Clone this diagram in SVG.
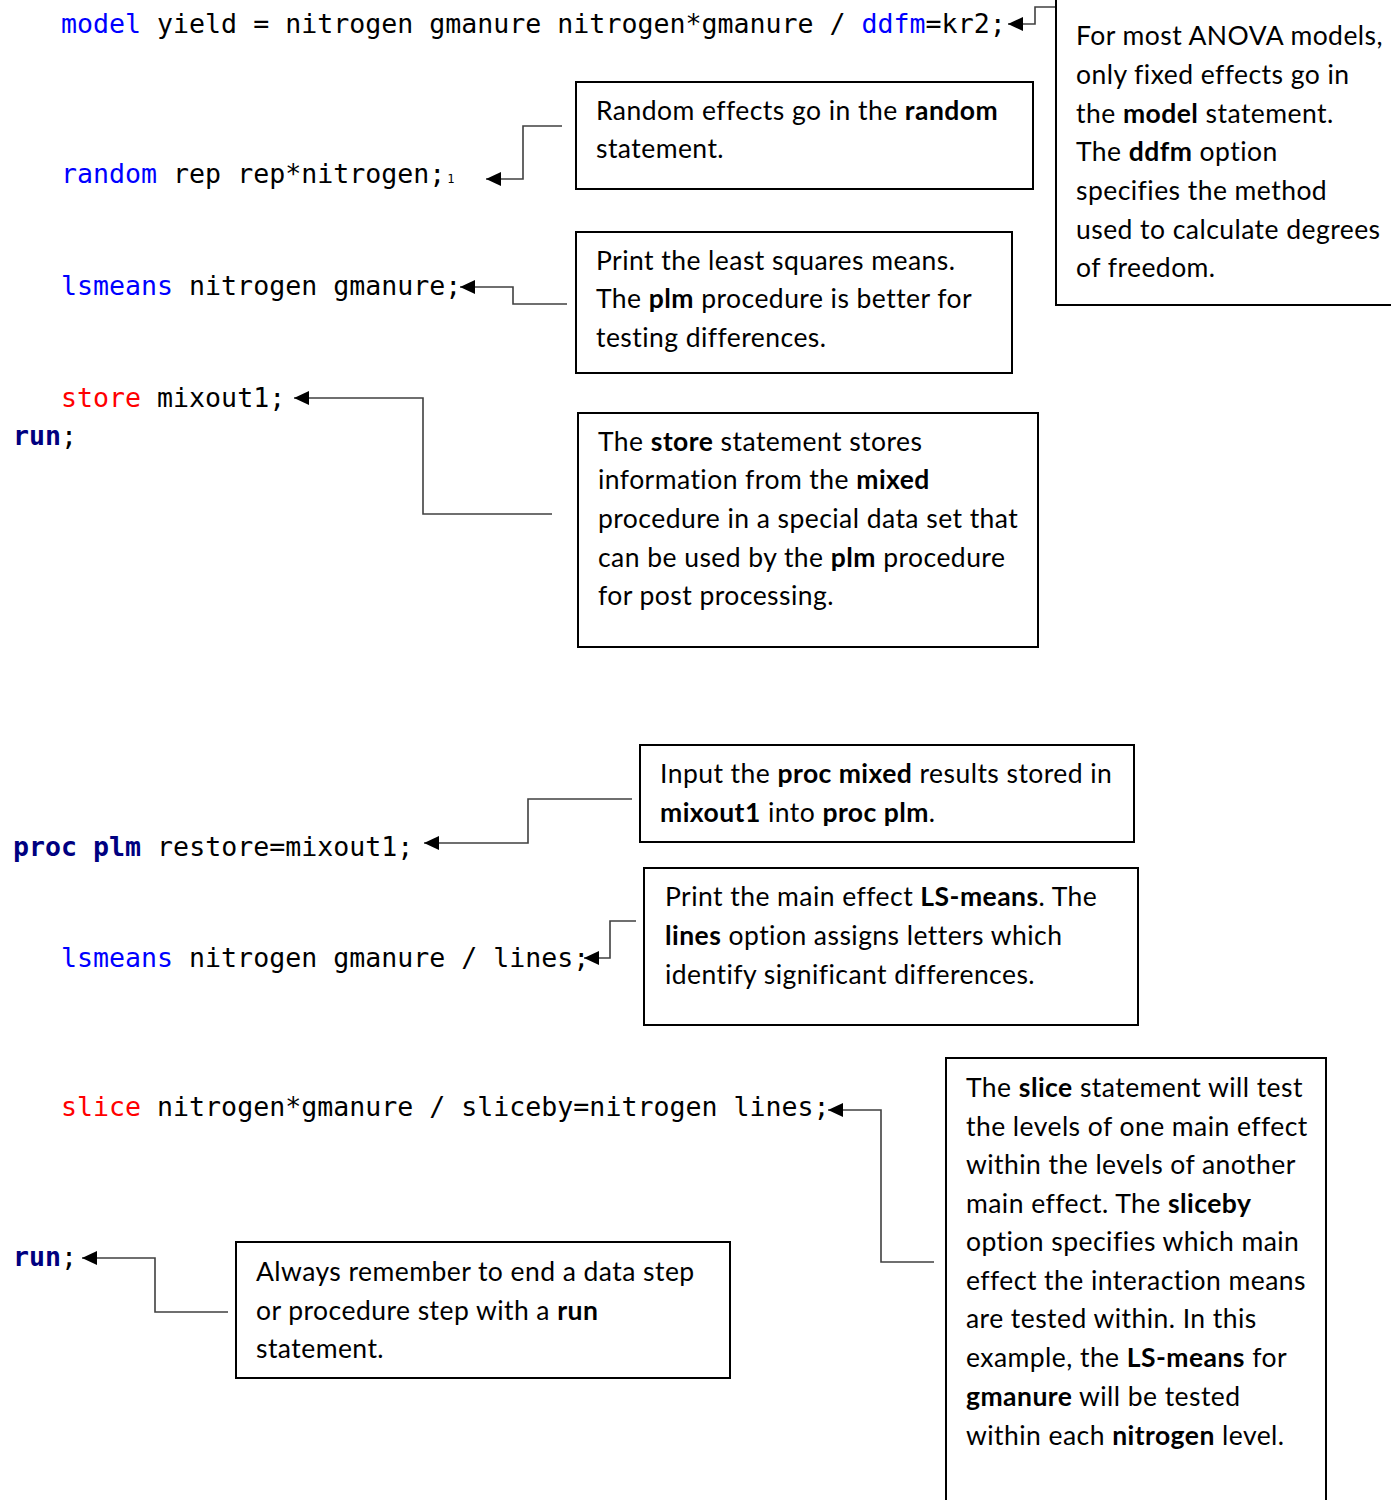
<svg xmlns="http://www.w3.org/2000/svg" width="1391" height="1500" viewBox="0 0 1391 1500">
<style>
.code{font-family:"DejaVu Sans Mono","Liberation Mono",monospace;font-size:26.6px;fill:#000;}
.kw{fill:#0000FF;}
.red{fill:#FF0000;}
.navy{fill:#000080;font-weight:bold;}
.note{font-family:Lato,"Open Sans",sans-serif;font-size:26.5px;letter-spacing:0.45px;fill:#000;}
.b{font-weight:bold;}
.box{fill:#fff;stroke:#000;stroke-width:2;}
.conn{fill:none;stroke:#404040;stroke-width:1.6;}
</style>
<defs>
<marker id="arr" markerUnits="userSpaceOnUse" markerWidth="16" markerHeight="14" refX="15" refY="7" orient="auto">
<path d="M0,0 L15,7 L0,14 Z" fill="#000"/>
</marker>
</defs>
<rect width="1391" height="1500" fill="#fff"/>

<g id="code">
<text class="code" x="61" y="33"><tspan class="kw">model</tspan> yield = nitrogen gmanure nitrogen*gmanure / <tspan class="kw">ddfm</tspan>=kr2;</text>
<text class="code" x="61" y="183"><tspan class="kw">random</tspan> rep rep*nitrogen;<tspan font-size="12" dx="2">1</tspan></text>
<text class="code" x="61" y="295"><tspan class="kw">lsmeans</tspan> nitrogen gmanure;</text>
<text class="code" x="61" y="407"><tspan class="red">store</tspan> mixout1;</text>
<text class="code" x="13" y="445"><tspan class="navy">run</tspan>;</text>
<text class="code" x="13" y="856"><tspan class="navy">proc plm</tspan> restore=mixout1;</text>
<text class="code" x="61" y="967"><tspan class="kw">lsmeans</tspan> nitrogen gmanure / lines;</text>
<text class="code" x="61" y="1116"><tspan class="red">slice</tspan> nitrogen*gmanure / sliceby=nitrogen lines;</text>
<text class="code" x="13" y="1266"><tspan class="navy">run</tspan>;</text>
</g>

<g id="connectors">
<path class="conn" d="M1055,7 H1035 V24 H1008" marker-end="url(#arr)"/>
<path class="conn" d="M562,126 H523 V179 H486" marker-end="url(#arr)"/>
<path class="conn" d="M567,304 H513 V287 H460" marker-end="url(#arr)"/>
<path class="conn" d="M552,514 H423 V398 H294" marker-end="url(#arr)"/>
<path class="conn" d="M632,799 H528 V843 H424" marker-end="url(#arr)"/>
<path class="conn" d="M636,921 H610 V958 H584" marker-end="url(#arr)"/>
<path class="conn" d="M934,1262 H881 V1110 H828" marker-end="url(#arr)"/>
<path class="conn" d="M228,1312 H155 V1258 H82" marker-end="url(#arr)"/>
</g>

<g id="note-random">
<rect class="box" x="576" y="82" width="457" height="107"/>
<text class="note" x="596" y="120">Random effects go in the <tspan class="b">random</tspan></text>
<text class="note" x="596" y="158">statement.</text>
</g>

<g id="note-anova">
<rect class="box" x="1056" y="-5" width="345" height="310"/>
<text class="note" x="1076" y="45">For most ANOVA models,</text>
<text class="note" x="1076" y="84">only fixed effects go in</text>
<text class="note" x="1076" y="123">the <tspan class="b">model</tspan> statement.</text>
<text class="note" x="1076" y="161">The <tspan class="b">ddfm</tspan> option</text>
<text class="note" x="1076" y="200">specifies the method</text>
<text class="note" x="1076" y="239">used to calculate degrees</text>
<text class="note" x="1076" y="277">of freedom.</text>
</g>

<g id="note-lsmeans">
<rect class="box" x="576" y="232" width="436" height="141"/>
<text class="note" x="596" y="270">Print the least squares means.</text>
<text class="note" x="596" y="308">The <tspan class="b">plm</tspan> procedure is better for</text>
<text class="note" x="596" y="347">testing differences.</text>
</g>

<g id="note-store">
<rect class="box" x="578" y="413" width="460" height="234"/>
<text class="note" x="598" y="451">The <tspan class="b">store</tspan> statement stores</text>
<text class="note" x="598" y="489">information from the <tspan class="b">mixed</tspan></text>
<text class="note" x="598" y="528">procedure in a special data set that</text>
<text class="note" x="598" y="567">can be used by the <tspan class="b">plm</tspan> procedure</text>
<text class="note" x="598" y="605">for post processing.</text>
</g>

<g id="note-input">
<rect class="box" x="640" y="745" width="494" height="97"/>
<text class="note" x="660" y="783">Input the <tspan class="b">proc mixed</tspan> results stored in</text>
<text class="note" x="660" y="822"><tspan class="b">mixout1</tspan> into <tspan class="b">proc plm</tspan>.</text>
</g>

<g id="note-lines">
<rect class="box" x="644" y="868" width="494" height="157"/>
<text class="note" x="665" y="906">Print the main effect <tspan class="b">LS-means</tspan>. The</text>
<text class="note" x="665" y="945"><tspan class="b">lines</tspan> option assigns letters which</text>
<text class="note" x="665" y="984">identify significant differences.</text>
</g>

<g id="note-slice">
<rect class="box" x="946" y="1058" width="380" height="460"/>
<text class="note" x="966" y="1097">The <tspan class="b">slice</tspan> statement will test</text>
<text class="note" x="966" y="1136">the levels of one main effect</text>
<text class="note" x="966" y="1174">within the levels of another</text>
<text class="note" x="966" y="1213">main effect. The <tspan class="b">sliceby</tspan></text>
<text class="note" x="966" y="1251">option specifies which main</text>
<text class="note" x="966" y="1290">effect the interaction means</text>
<text class="note" x="966" y="1328">are tested within. In this</text>
<text class="note" x="966" y="1367">example, the <tspan class="b">LS-means</tspan> for</text>
<text class="note" x="966" y="1406"><tspan class="b">gmanure</tspan> will be tested</text>
<text class="note" x="966" y="1445">within each <tspan class="b">nitrogen</tspan> level.</text>
</g>

<g id="note-run">
<rect class="box" x="236" y="1242" width="494" height="136"/>
<text class="note" x="256" y="1281">Always remember to end a data step</text>
<text class="note" x="256" y="1320">or procedure step with a <tspan class="b">run</tspan></text>
<text class="note" x="256" y="1358">statement.</text>
</g>
</svg>
